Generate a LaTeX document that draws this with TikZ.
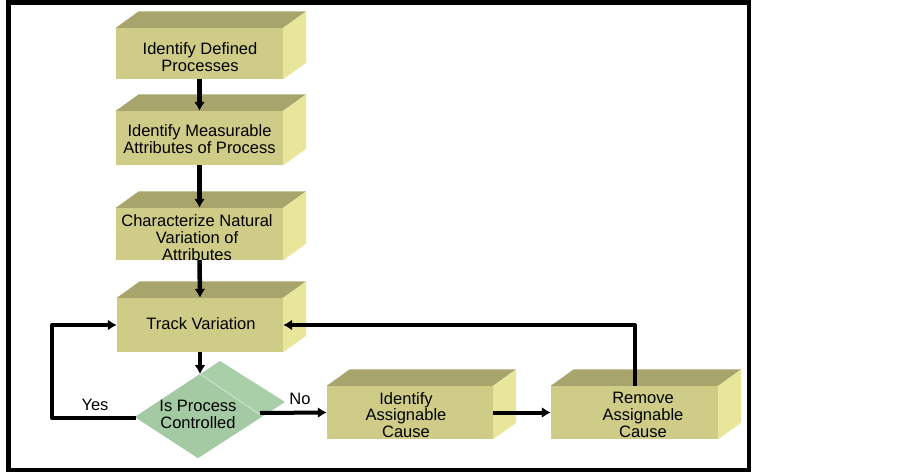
\documentclass[tikz,border=0pt]{standalone}
\usepackage{fontspec}
\setmainfont{Liberation Sans}
\usetikzlibrary{arrows.meta}
\definecolor{frontc}{HTML}{CFCC88}
\definecolor{topc}{HTML}{A8A56C}
\definecolor{sidec}{HTML}{E8E69A}
\definecolor{diamc}{HTML}{A9CFA9}
\definecolor{diamd}{HTML}{A4CAA4}
\definecolor{foldc}{HTML}{C4DFC4}
\tikzset{
  front/.style={fill=frontc, inner sep=0pt, minimum width=167pt, minimum height=53pt},
  topface/.style={fill=topc},
  sideface/.style={fill=sidec},
  txt/.style={font=\fontsize{16.5}{16.8}\selectfont, align=center, inner sep=0pt},
  conn/.style={line width=4.5pt, -{Latex[length=9pt,width=11pt]}},
  frame/.style={line width=4.5pt, draw=black}
}
\newcommand{\cubefaces}[1]{%
  \fill[topface] (#1.north west) -- ++(23pt,16.5pt) -- ([shift={(23pt,16.5pt)}]#1.north east) -- (#1.north east) -- cycle;
  \fill[sideface] (#1.north east) -- ++(23pt,16.5pt) -- ([shift={(23pt,16.5pt)}]#1.south east) -- (#1.south east) -- cycle;
}
\begin{document}
\begin{tikzpicture}[x=1pt,y=-1pt]
\useasboundingbox (0,0) rectangle (903,474);
\fill[white] (0,0) rectangle (903,474);
\draw[frame] (8.5,2.5) rectangle (749,470);

% boxes
\node[front, minimum height=51pt] (b1) at (199.5,53.5) {};
\cubefaces{b1}
\node[front, minimum height=54pt] (b2) at (199.5,138) {};
\cubefaces{b2}
\node[front, minimum height=52pt] (b3) at (199.5,234) {};
\cubefaces{b3}
\node[front, minimum height=54pt, minimum width=166pt] (b4) at (200,325) {};
\cubefaces{b4}
\node[front, minimum width=166pt] (b5) at (410,412.5) {};
\cubefaces{b5}
\node[front] (b6) at (634.5,412.5) {};
\cubefaces{b6}

% diamond
\coordinate (dT) at (220,361);
\coordinate (dR) at (285,402);
\coordinate (dB) at (198,458);
\coordinate (dL) at (135,417);
\coordinate (fA) at (200,374);
\coordinate (fB) at (262,416);
\fill[diamc] (dT) -- (dR) -- (dB) -- (dL) -- cycle;
\fill[diamd] (fA) -- (fB) -- (dB) -- (dL) -- cycle;
\draw[foldc, line width=1.2pt] (fA) -- (fB);

% texts
\node[txt] (t1) at (200,57) {Identify Defined\\Processes};
\node[txt] (t2) at (199.5,139) {Identify Measurable\\Attributes of Process};
\node[txt] (t3) at (197,237.5) {Characterize Natural\\Variation of\\Attributes};
\node[txt] (t4) at (201,324) {Track Variation};
\node[txt] (t5) at (198,414) {Is Process\\Controlled};
\node[txt] (t6) at (406,415) {Identify\\Assignable\\Cause};
\node[txt] (t7) at (643,415) {Remove\\Assignable\\Cause};
\node[txt] (yes) at (95,405) {Yes};
\node[txt] (no) at (300,399) {No};

% connectors
\coordinate (dyes) at (136,418);
\coordinate (dno) at (260,413);
\coordinate (yl) at (52,418);
\draw[conn] (b1.south) -- (b2.north);
\draw[conn] (b2.south) -- (b3.north);
\draw[conn] (b3.south) -- (b4.north);
\draw[conn] (b4.south) -- (fA);
\draw[conn, line width=4pt, line join=round] (dyes) -- (yl) |- (b4.west);
\draw[conn, line width=4pt] (dno) -- (b5.west);
\draw[conn, line width=4pt] (b5.east) -- (b6.west);
\draw[conn, line width=4pt, line join=round] (b6.north) |- (b4.east);
\end{tikzpicture}
\end{document}
